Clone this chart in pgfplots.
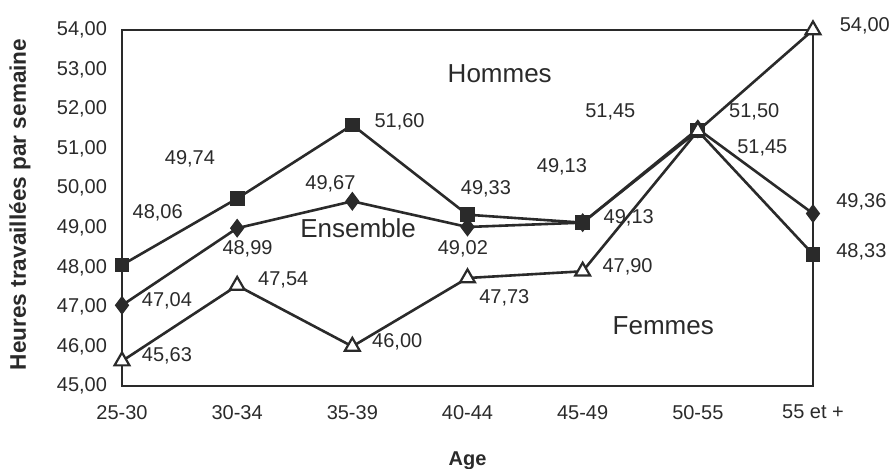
\documentclass[border=0pt]{standalone}
\usepackage{fontspec}
\setmainfont{Liberation Sans}
\usepackage{pgfplots}
\pgfplotsset{compat=1.18}
\definecolor{ink}{HTML}{2A2A2A}
\begin{document}
\begin{tikzpicture}
\path[use as bounding box] (-61pt,-41.5pt) rectangle (385.5pt,193pt);
\begin{axis}[
  scale only axis, width=345.5pt, height=178pt,
  xmin=0, xmax=6, ymin=45, ymax=54,
  xtick={0,1,2,3,4,5,6},
  xticklabels={25-30,30-34,35-39,40-44,45-49,50-55,55 et +},
  ytick={45,46,...,54},
  tick style={draw=none},
  axis line style={ink, line width=1.1pt},
  /pgf/number format/assume math mode=true,
  yticklabel style={/pgf/number format/.cd, fixed, fixed zerofill, precision=2, use comma, /tikz/.cd, font=\fontsize{10}{12}\selectfont, text=ink, xshift=-4pt},
  xticklabel style={font=\fontsize{10}{12}\selectfont, text=ink, yshift=-6pt},
  xlabel={\textbf{Age}},
  xlabel style={at={(axis description cs:0.5,-0.21)}, anchor=center, font=\fontsize{10}{12}\selectfont, text=ink},
  ylabel={\textbf{Heures travaillées par semaine}},
  ylabel style={at={(axis description cs:-0.1476,0.51)}, anchor=center, font=\fontsize{11.3}{13}\selectfont, text=ink},
  clip=false,
  every axis plot/.append style={ink, line width=1.3pt},
]
% Hommes
\addplot[mark=square*, mark size=3.4pt, mark options={fill=ink, line width=0.6pt}]
  coordinates {(0,48.06) (1,49.74) (2,51.60) (3,49.33) (4,49.13) (5,51.45) (6,48.33)};
% Ensemble
\addplot[mark=diamond*, mark size=4.3pt, mark options={fill=ink, line width=0.6pt}]
  coordinates {(0,47.04) (1,48.99) (2,49.67) (3,49.02) (4,49.13) (5,51.50) (6,49.36)};
% Femmes
\addplot[mark=triangle*, mark size=4.3pt, mark options={fill=white, line width=1.1pt}]
  coordinates {(0,45.63) (1,47.54) (2,46.00) (3,47.73) (4,47.90) (5,51.45) (6,54.00)};
\begin{scope}[every node/.style={font=\fontsize{10}{12}\selectfont, text=ink}]
\node at (axis cs:0.31,49.39) {48,06};
\node at (axis cs:0.59,50.74) {49,74};
\node at (axis cs:2.41,51.67) {51,60};
\node at (axis cs:3.16,49.99) {49,33};
\node at (axis cs:3.82,50.55) {49,13};
\node at (axis cs:4.24,51.94) {51,45};
\node at (axis cs:6.42,48.39) {48,33};
\node at (axis cs:0.39,47.15) {47,04};
\node at (axis cs:1.09,48.46) {48,99};
\node at (axis cs:1.81,50.10) {49,67};
\node at (axis cs:2.96,48.46) {49,02};
\node at (axis cs:4.40,49.24) {49,13};
\node at (axis cs:5.49,51.93) {51,50};
\node at (axis cs:6.42,49.65) {49,36};
\node at (axis cs:0.39,45.76) {45,63};
\node at (axis cs:1.40,47.68) {47,54};
\node at (axis cs:2.39,46.11) {46,00};
\node at (axis cs:3.32,47.22) {47,73};
\node at (axis cs:4.39,48.01) {47,90};
\node at (axis cs:5.56,51.02) {51,45};
\node at (axis cs:6.45,54.10) {54,00};
\end{scope}
\begin{scope}[every node/.style={font=\fontsize{13}{15}\selectfont, text=ink}]
\node at (axis cs:3.28,52.90) {Hommes};
\node at (axis cs:2.05,49.00) {Ensemble};
\node at (axis cs:4.70,46.52) {Femmes};
\end{scope}
\end{axis}
\end{tikzpicture}
\end{document}
